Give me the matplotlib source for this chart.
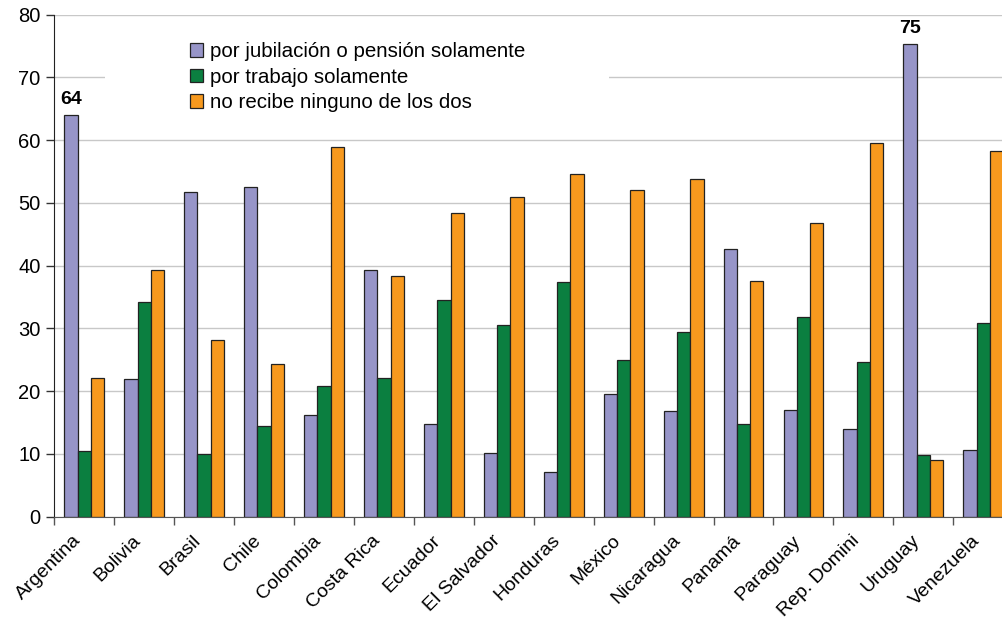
import matplotlib.pyplot as plt
import matplotlib.patches as mpatches
import matplotlib.transforms as mtransforms
import numpy as np

plt.rcParams["font.family"] = ["Liberation Sans", "DejaVu Sans"]

# Données
paises = ["Argentina", "Bolivia", "Brasil", "Chile", "Colombia", "Costa Rica", "Ecuador",
          "El Salvador", "Honduras", "México", "Nicaragua", "Panamá", "Paraguay",
          "Rep. Domini", "Uruguay", "Venezuela"]
jubilacion = [64.0, 21.9, 51.8, 52.6, 16.2, 39.3, 14.7, 10.2, 7.1, 19.6, 16.8, 42.6, 17.0, 13.9, 75.3, 10.7]
trabajo = [10.5, 34.2, 10.0, 14.5, 20.9, 22.1, 34.6, 30.5, 37.4, 24.9, 29.5, 14.8, 31.9, 24.7, 9.8, 30.9]
ninguno = [22.1, 39.3, 28.2, 24.4, 58.9, 38.4, 48.4, 51.0, 54.6, 52.0, 53.8, 37.5, 46.8, 59.6, 9.0, 58.3]
series_labels = ["por jubilación o pensión solamente", "por trabajo solamente", "no recibe ninguno de los dos"]
colores = ["#9795C8", "#0B7F40", "#F7991E"]

fig = plt.figure(figsize=(10.02, 6.2), dpi=100)
ax = fig.add_axes([0.0542, 0.1666, 0.957, 0.8097])

x = np.arange(len(paises))
w = 0.222
for i, (vals, lab, col) in enumerate(zip([jubilacion, trabajo, ninguno], series_labels, colores)):
    ax.bar(x + (i - 1) * w, vals, w, color=col, edgecolor="#222222", linewidth=0.9,
           label=lab, zorder=2)

# Étiquettes des valeurs maximales
for idx in [0, 14]:
    ax.annotate(f"{round(jubilacion[idx]):d}", (x[idx] - w, jubilacion[idx]),
                xytext=(0, 5), textcoords="offset points", ha="center", va="bottom",
                fontsize=14, fontweight="bold")

ax.set_xlim(-0.5, len(paises) - 0.5)
ax.set_ylim(0, 80)
ax.set_yticks(np.arange(0, 81, 10))
ax.tick_params(axis="y", labelsize=14.5, length=6, width=1, pad=4, color="#333333")
ax.set_xticks(x)
ax.set_xticklabels(paises, rotation=45, ha="right", rotation_mode="anchor", fontsize=14)
ax.tick_params(axis="x", which="major", length=0, pad=11)
ax.set_xticks(np.arange(-0.5, len(paises), 1), minor=True)
ax.tick_params(axis="x", which="minor", length=6, width=1, color="#555555")
decalage = mtransforms.ScaledTranslation(-0.12, 0, fig.dpi_scale_trans)
for t in ax.get_xticklabels():
    t.set_transform(t.get_transform() + decalage)

ax.grid(axis="y", color="#C8C8C8", linewidth=1)
ax.set_axisbelow(True)
for s in ["top", "right"]:
    ax.spines[s].set_visible(False)
ax.spines["left"].set_color("#222222")
ax.spines["bottom"].set_color("#555555")

# Zone blanche de la légende
fig.patches.append(mpatches.Rectangle((0.1048, 0.798), 0.503, 0.154, transform=fig.transFigure,
                                      facecolor="white", edgecolor="none", zorder=0))
ax.patch.set_visible(False)

leg = fig.legend(loc="upper left", bbox_to_anchor=(0.19, 0.932), frameon=False,
                 fontsize=14.8, handlelength=0.6, handleheight=0.64, handletextpad=0.35,
                 labelspacing=0.32, borderpad=0, borderaxespad=0)

fig.savefig("out.png", dpi=100)
